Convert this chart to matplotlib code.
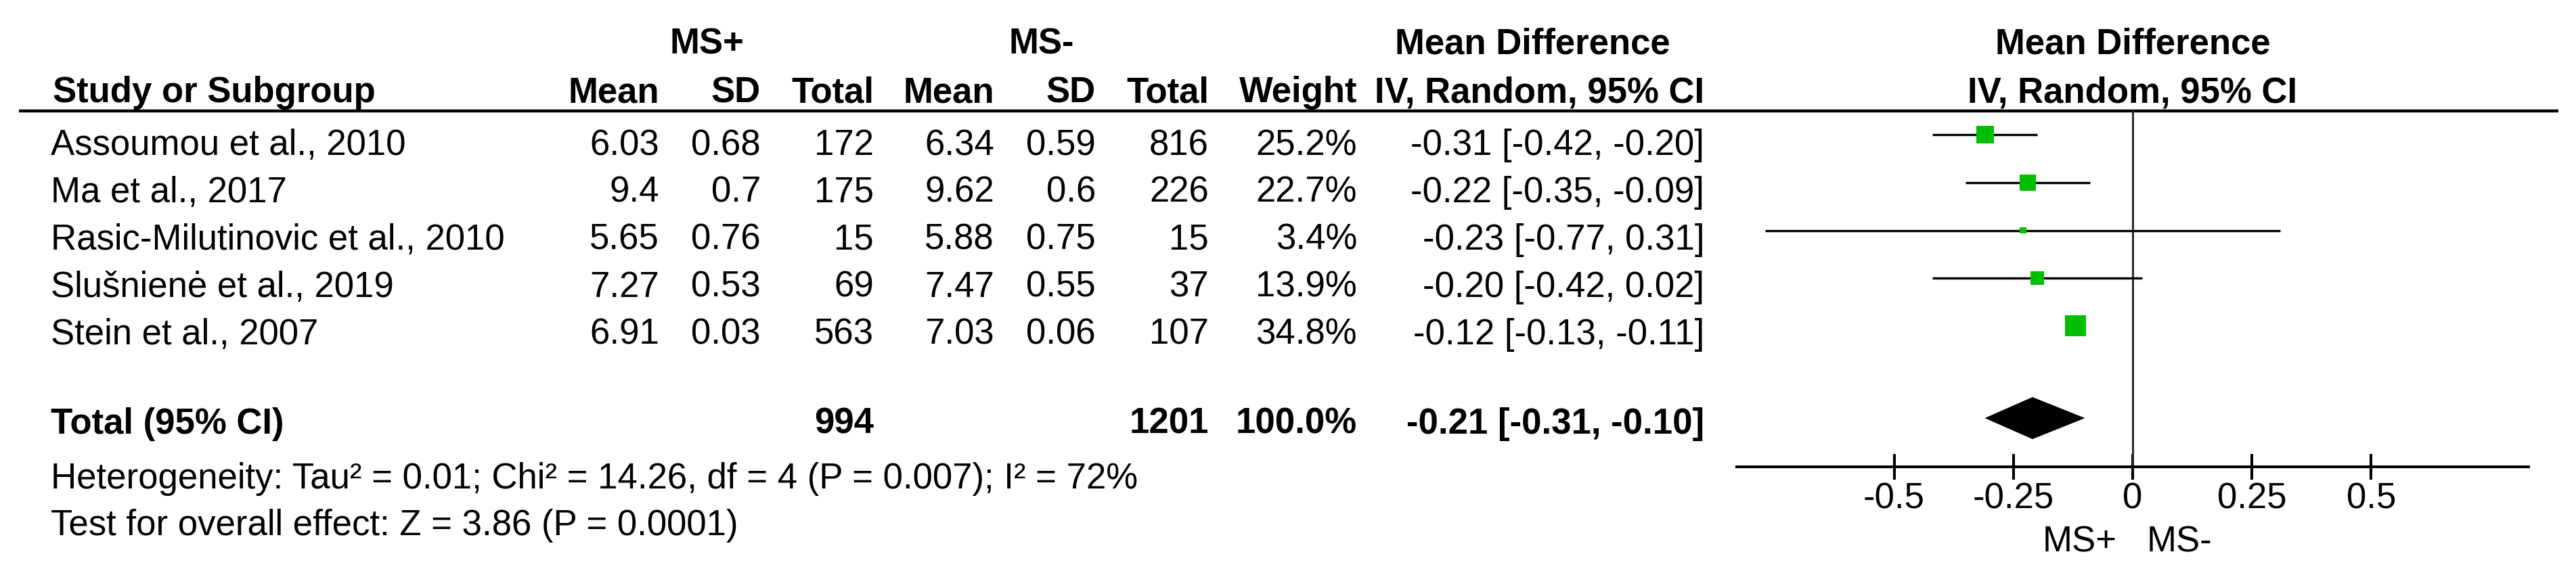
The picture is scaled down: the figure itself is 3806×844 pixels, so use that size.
import matplotlib
matplotlib.use("Agg")
import matplotlib.pyplot as plt
from matplotlib.patches import Polygon
from matplotlib.transforms import blended_transform_factory

plt.rcParams['font.family'] = ['Liberation Sans', 'DejaVu Sans']
plt.rcParams['axes.unicode_minus'] = False

# data
studies = ["Assoumou et al., 2010", "Ma et al., 2017",
           "Rasic-Milutinovic et al., 2010", "Slušnienė et al., 2019",
           "Stein et al., 2007"]
pos_mean = [6.03, 9.4, 5.65, 7.27, 6.91]
pos_sd = [0.68, 0.7, 0.76, 0.53, 0.03]
pos_n = [172, 175, 15, 69, 563]
neg_mean = [6.34, 9.62, 5.88, 7.47, 7.03]
neg_sd = [0.59, 0.6, 0.75, 0.55, 0.06]
neg_n = [816, 226, 15, 37, 107]
weights = [25.2, 22.7, 3.4, 13.9, 34.8]
md = [-0.31, -0.22, -0.23, -0.20, -0.12]
md_lo = [-0.42, -0.35, -0.77, -0.42, -0.13]
md_hi = [-0.20, -0.09, 0.31, 0.02, -0.11]

total_pos_n = 994
total_neg_n = 1201
total_weight = 100.0
total_md, total_lo, total_hi = -0.21, -0.31, -0.10

heterogeneity = "Heterogeneity: Tau² = 0.01; Chi² = 14.26, df = 4 (P = 0.007); I² = 72%"
overall = "Test for overall effect: Z = 3.86 (P = 0.0001)"

xticks = [-0.5, -0.25, 0, 0.25, 0.5]
xtick_labels = ["-0.5", "-0.25", "0", "0.25", "0.5"]

W, H = 3806, 845
FS = 38
GREEN = '#00bf00'

fig = plt.figure(figsize=(W / 100, H / 100), dpi=100)

# text layer, pixel coordinates
ax_t = fig.add_axes([0, 0, 1, 1])
ax_t.set_xlim(0, W)
ax_t.set_ylim(H, 0)
ax_t.axis('off')

# forest panel
F_LEFT, F_RIGHT, F_TOP, F_BOTTOM = 2566, 3736, 165, 691
ax_f = fig.add_axes([F_LEFT / W, 1 - F_BOTTOM / H,
                     (F_RIGHT - F_LEFT) / W, (F_BOTTOM - F_TOP) / H])
ax_f.set_xlim(-0.83, 0.83)
ax_f.set_ylim(6.95, -0.5)
ax_f.patch.set_alpha(0)
for s in ['top', 'left', 'right']:
    ax_f.spines[s].set_visible(False)
ax_f.spines['bottom'].set_linewidth(2.9)
ax_f.set_yticks([])
ax_f.set_xticks(xticks)
ax_f.set_xticklabels(xtick_labels)
ax_f.tick_params(axis='x', direction='inout', length=27, width=2.9,
                 labelsize=FS, pad=2)

# header rule
ax_t.plot([28, 3780], [165, 165], color='black', lw=3.2, solid_capstyle='butt')

# column layout (right edges) and row baselines
cols = {'m1': 974, 's1': 1124, 'n1': 1291, 'm2': 1469, 's2': 1619,
        'n2': 1786, 'w': 2005, 'ci': 2518}
NAME_X = 75
ROW0, PITCH = 229, 70

def txt(x, y, s, ha='right', bold=False, tr=None):
    ax_t.text(x, y, s, ha=ha, va='baseline', fontsize=FS,
              fontweight='bold' if bold else 'normal',
              transform=tr if tr is not None else ax_t.transData)

# group headers
txt(1044, 79, "MS+", ha='center', bold=True)
txt(1539, 79, "MS-", ha='center', bold=True)
txt(2264, 79, "Mean Difference", ha='center', bold=True)
txt(78, 151, "Study or Subgroup", ha='left', bold=True)
for key, lab in [('m1', 'Mean'), ('s1', 'SD'), ('n1', 'Total'),
                 ('m2', 'Mean'), ('s2', 'SD'), ('n2', 'Total'),
                 ('w', 'Weight'), ('ci', 'IV, Random, 95% CI')]:
    txt(cols[key], 151, lab, bold=True)

# forest headers centred on the line of no effect
bt = blended_transform_factory(ax_f.transData, ax_t.transData)
txt(0, 79, "Mean Difference", ha='center', bold=True, tr=bt)
txt(0, 151, "IV, Random, 95% CI", ha='center', bold=True, tr=bt)

# study rows
for i, name in enumerate(studies):
    y = ROW0 + i * PITCH
    txt(NAME_X, y, name, ha='left')
    txt(cols['m1'], y, str(pos_mean[i]))
    txt(cols['s1'], y, str(pos_sd[i]))
    txt(cols['n1'], y, str(pos_n[i]))
    txt(cols['m2'], y, str(neg_mean[i]))
    txt(cols['s2'], y, str(neg_sd[i]))
    txt(cols['n2'], y, str(neg_n[i]))
    txt(cols['w'], y, f"{weights[i]:.1f}%")
    txt(cols['ci'], y, f"{md[i]:.2f} [{md_lo[i]:.2f}, {md_hi[i]:.2f}]")

# total row
TOT_Y = 641
txt(NAME_X, TOT_Y, "Total (95% CI)", ha='left', bold=True)
txt(cols['n1'], TOT_Y, str(total_pos_n), bold=True)
txt(cols['n2'], TOT_Y, str(total_neg_n), bold=True)
txt(cols['w'], TOT_Y, f"{total_weight:.1f}%", bold=True)
txt(cols['ci'], TOT_Y, f"{total_md:.2f} [{total_lo:.2f}, {total_hi:.2f}]", bold=True)

txt(NAME_X, 722, heterogeneity, ha='left')
txt(NAME_X, 791, overall, ha='left')

# forest marks
rows = list(range(len(studies)))
ax_f.axvline(0, color='#2b2b2b', lw=2.2)
ax_f.hlines(rows, md_lo, md_hi, color='black', lw=2.4)
ax_f.scatter(md, rows, s=[13.9 * w for w in weights], marker='s',
             color=GREEN, linewidths=0, zorder=3)

total_row = 5.93
ax_f.add_patch(Polygon([(total_lo, total_row), (total_md, total_row - 0.44),
                        (total_hi, total_row), (total_md, total_row + 0.44)],
                       closed=True, color='black', lw=0))

# favours labels under the axis
ax_f.annotate("MS+", xy=(0, 816), xycoords=bt, xytext=(-17, 0),
              textcoords='offset points', ha='right', va='baseline', fontsize=FS)
ax_f.annotate("MS-", xy=(0, 816), xycoords=bt, xytext=(15, 0),
              textcoords='offset points', ha='left', va='baseline', fontsize=FS)

fig.savefig("out.png", dpi=100)
